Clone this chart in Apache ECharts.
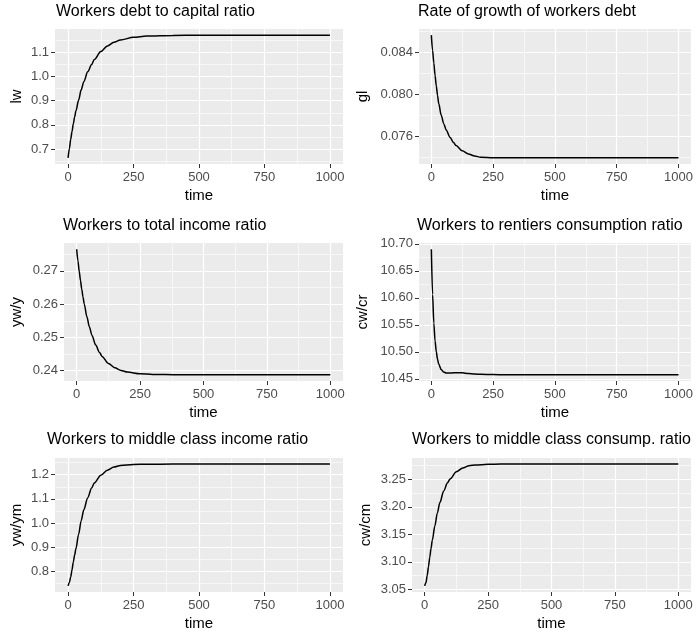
<!DOCTYPE html>
<html>
<head>
<meta charset="utf-8">
<script src="https://cdn.jsdelivr.net/npm/echarts@6/dist/echarts.min.js"></script>
<style>
  html, body { margin: 0; padding: 0; background: #ffffff; }
  #chart { width: 696px; height: 635px; }
</style>
</head>
<body>
<div id="chart"></div>
<script>
// Simulation output, sampled over time
const time = [0, 5, 10, 15, 20, 25, 30, 40, 50, 60, 75, 90, 100, 125, 150, 175, 200, 250, 300, 400, 500, 600, 700, 800, 900, 1000];

// Workers debt to capital ratio
const lw = [0.663, 0.702, 0.740, 0.772, 0.804, 0.832, 0.858, 0.902, 0.945, 0.979, 1.020, 1.050, 1.071, 1.104, 1.127, 1.142, 1.152, 1.163, 1.168, 1.171, 1.172, 1.172, 1.172, 1.172, 1.172, 1.172];
// Rate of growth of workers debt
const gl = [0.08566, 0.0842, 0.0830, 0.0818, 0.0808, 0.0799, 0.0791, 0.0780, 0.0772, 0.0766, 0.0759, 0.0754, 0.0751, 0.0746, 0.0743, 0.0741, 0.07400, 0.07395, 0.07393, 0.07393, 0.07393, 0.07393, 0.07393, 0.07393, 0.07393, 0.07393];
// Workers to total income ratio
const ywY = [0.2765, 0.2730, 0.2699, 0.2671, 0.2645, 0.2621, 0.2600, 0.2563, 0.2532, 0.2507, 0.2477, 0.2455, 0.2443, 0.2422, 0.2409, 0.2401, 0.2396, 0.2391, 0.2389, 0.2388, 0.2388, 0.2388, 0.2388, 0.2388, 0.2388, 0.2388];
// Workers to rentiers consumption ratio
const cwCr = [10.690, 10.606, 10.553, 10.520, 10.500, 10.486, 10.477, 10.467, 10.4625, 10.4608, 10.4606, 10.4611, 10.4613, 10.4610, 10.4598, 10.4588, 10.4582, 10.4577, 10.4576, 10.4575, 10.4575, 10.4575, 10.4575, 10.4575, 10.4575, 10.4575];
// Workers to middle class income ratio
const ywYm = [0.741, 0.755, 0.778, 0.808, 0.840, 0.868, 0.895, 0.953, 1.010, 1.055, 1.105, 1.145, 1.165, 1.197, 1.218, 1.231, 1.238, 1.242, 1.2432, 1.2435, 1.2435, 1.2435, 1.2435, 1.2435, 1.2435, 1.2435];
// Workers to middle class consumption ratio
const cwCm = [3.056, 3.062, 3.075, 3.091, 3.108, 3.124, 3.139, 3.165, 3.189, 3.208, 3.229, 3.244, 3.251, 3.264, 3.271, 3.275, 3.2765, 3.2775, 3.278, 3.278, 3.278, 3.278, 3.278, 3.278, 3.278, 3.278];

// Tick positions
const xTicks = [0, 250, 500, 750, 1000];
const xMinor = [125, 375, 625, 875];
const lwTicks = [0.7, 0.8, 0.9, 1.0, 1.1];
const lwMinor = [0.65, 0.75, 0.85, 0.95, 1.05, 1.15];
const glTicks = [0.076, 0.080, 0.084];
const glMinor = [0.074, 0.078, 0.082, 0.086];
const ywYTicks = [0.24, 0.25, 0.26, 0.27];
const ywYMinor = [0.245, 0.255, 0.265, 0.275];
const cwCrTicks = [10.45, 10.50, 10.55, 10.60, 10.65, 10.70];
const cwCrMinor = [10.475, 10.525, 10.575, 10.625, 10.675];
const ywYmTicks = [0.8, 0.9, 1.0, 1.1, 1.2];
const ywYmMinor = [0.75, 0.85, 0.95, 1.05, 1.15, 1.25];
const cwCmTicks = [3.05, 3.10, 3.15, 3.20, 3.25];
const cwCmMinor = [3.075, 3.125, 3.175, 3.225, 3.275];

const panels = [
  { title: 'Workers debt to capital ratio', yName: 'lw', values: lw, ticks: lwTicks, minor: lwMinor, dec: 1 },
  { title: 'Rate of growth of workers debt', yName: 'gl', values: gl, ticks: glTicks, minor: glMinor, dec: 3 },
  { title: 'Workers to total income ratio', yName: 'yw/y', values: ywY, ticks: ywYTicks, minor: ywYMinor, dec: 2 },
  { title: 'Workers to rentiers consumption ratio', yName: 'cw/cr', values: cwCr, ticks: cwCrTicks, minor: cwCrMinor, dec: 2 },
  { title: 'Workers to middle class income ratio', yName: 'yw/ym', values: ywYm, ticks: ywYmTicks, minor: ywYmMinor, dec: 1 },
  { title: 'Workers to middle class consump. ratio', yName: 'cw/cm', values: cwCm, ticks: cwCmTicks, minor: cwCmMinor, dec: 2 }
];

// Panel boxes in pixels and title anchors
const boxes = [
  { left: 55,  top: 29,  width: 288, height: 135, tl: 56,  tt: 4,   ng: 31 },
  { left: 419, top: 29,  width: 272, height: 135, tl: 418, tt: 4,   ng: 49 },
  { left: 64,  top: 243, width: 279, height: 138, tl: 63,  tt: 218, ng: 40 },
  { left: 419, top: 243, width: 272, height: 138, tl: 417, tt: 218, ng: 49 },
  { left: 55,  top: 458, width: 288, height: 134, tl: 47,  tt: 432, ng: 31 },
  { left: 412, top: 458, width: 279, height: 134, tl: 412, tt: 432, ng: 39 }
];

const FONT = '"Liberation Sans", Arial, Helvetica, sans-serif';
const BG = '#EBEBEB';

const grids = [], titles = [], xAxes = [], yAxes = [], series = [];

panels.forEach((p, i) => {
  const b = boxes[i];
  const lo = Math.min(...p.values), hi = Math.max(...p.values);
  const pad = (hi - lo) * 0.05;
  const yMin = lo - pad, yMax = hi + pad;

  grids.push({ left: b.left, top: b.top, width: b.width, height: b.height,
    show: true, backgroundColor: BG, borderWidth: 0, containLabel: false });

  titles.push({ text: p.title, left: b.tl, top: b.tt, padding: 0,
    textStyle: { fontFamily: FONT, fontSize: 16, fontWeight: 'normal', color: '#000' } });

  // major x axis
  xAxes.push({
    gridIndex: i, type: 'value', min: -50, max: 1050, position: 'bottom',
    name: 'time', nameLocation: 'middle', nameGap: 24,
    nameTextStyle: { fontFamily: FONT, fontSize: 15, color: '#000' },
    axisLine: { show: false, onZero: false },
    axisTick: { show: true, length: 4, customValues: xTicks, lineStyle: { color: '#333', width: 1 } },
    axisLabel: { customValues: xTicks, fontFamily: FONT, fontSize: 13, color: '#4D4D4D', margin: 7,
      formatter: v => String(v) },
    splitLine: { show: true, lineStyle: { color: '#fff', width: 1.2 } }
  });
  // minor x grid
  xAxes.push({
    gridIndex: i, type: 'value', min: -50, max: 1050, position: 'bottom',
    axisLine: { show: false, onZero: false },
    axisTick: { show: false, customValues: xMinor },
    axisLabel: { show: false, customValues: xMinor },
    splitLine: { show: true, lineStyle: { color: '#fff', width: 0.6 } }
  });

  // major y axis
  yAxes.push({
    gridIndex: i, type: 'value', min: yMin, max: yMax, position: 'left',
    name: p.yName, nameLocation: 'middle', nameRotate: 90, nameGap: b.ng,
    nameTextStyle: { fontFamily: FONT, fontSize: 15, color: '#000' },
    axisLine: { show: false, onZero: false },
    axisTick: { show: true, length: 4, customValues: p.ticks, lineStyle: { color: '#333', width: 1 } },
    axisLabel: { customValues: p.ticks, fontFamily: FONT, fontSize: 13, color: '#4D4D4D', margin: 6,
      formatter: v => Number(v).toFixed(p.dec) },
    splitLine: { show: true, lineStyle: { color: '#fff', width: 1.2 } }
  });
  // minor y grid
  yAxes.push({
    gridIndex: i, type: 'value', min: yMin, max: yMax, position: 'left',
    axisLine: { show: false, onZero: false },
    axisTick: { show: false, customValues: p.minor },
    axisLabel: { show: false, customValues: p.minor },
    splitLine: { show: true, lineStyle: { color: '#fff', width: 0.6 } }
  });

  series.push({
    type: 'line', xAxisIndex: 2 * i, yAxisIndex: 2 * i,
    data: time.map((t, k) => [t, p.values[k]]),
    showSymbol: false, smooth: 0.3, smoothMonotone: 'x',
    lineStyle: { color: '#000', width: 1.5 }, silent: true, z: 5
  });
});

const chart = echarts.init(document.getElementById('chart'), null, { renderer: 'canvas' });
chart.setOption({
  animation: false,
  backgroundColor: '#ffffff',
  title: titles,
  grid: grids,
  xAxis: xAxes,
  yAxis: yAxes,
  series: series
});
</script>
</body>
</html>
